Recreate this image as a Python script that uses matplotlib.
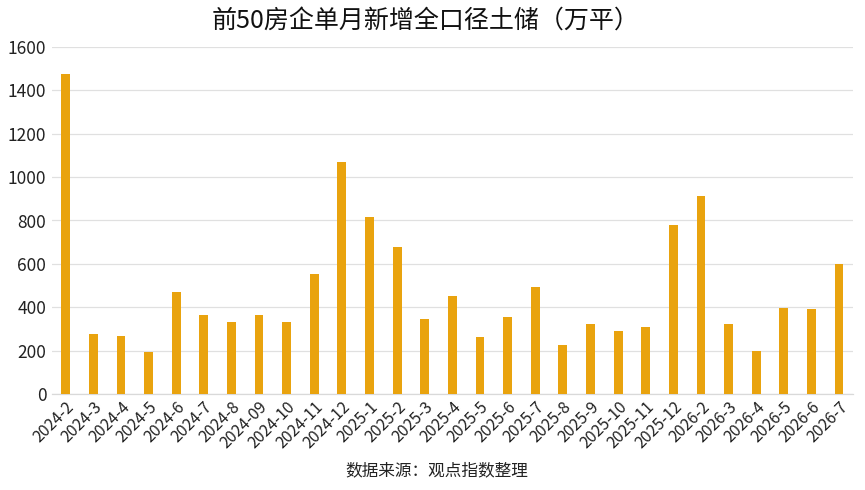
import matplotlib
matplotlib.use("Agg")
import matplotlib.pyplot as plt

plt.rcParams['font.family'] = ['Noto Sans CJK SC', 'DejaVu Sans']

categories = ["2024-2", "2024-3", "2024-4", "2024-5", "2024-6", "2024-7", "2024-8",
              "2024-09", "2024-10", "2024-11", "2024-12", "2025-1", "2025-2", "2025-3",
              "2025-4", "2025-5", "2025-6", "2025-7", "2025-8", "2025-9", "2025-10",
              "2025-11", "2025-12", "2026-2", "2026-3", "2026-4", "2026-5", "2026-6", "2026-7"]
values = [1475, 275, 269, 195, 472, 363, 332, 366, 332, 551, 1068, 815, 678, 348,
          454, 263, 357, 492, 228, 322, 291, 311, 778, 911, 322, 197, 398, 392, 600]
yticks = [0, 200, 400, 600, 800, 1000, 1200, 1400, 1600]

title = "前50房企单月新增全口径土储（万平）"
source = "数据来源：观点指数整理"

fig = plt.figure(figsize=(8.65, 4.9), dpi=100)
ax = fig.add_axes([0.060, 0.196, 0.926, 0.708])

x = list(range(len(categories)))
ax.bar(x, values, width=0.32, color="#E9A30E", zorder=3)

ax.set_xlim(-0.5, len(categories) - 0.5)
ax.set_ylim(0, 1600)
ax.set_yticks(yticks)
ax.set_yticklabels([str(v) for v in yticks], fontsize=12.5, color="#222222")
ax.yaxis.grid(True, color="#e0e0e0", linewidth=0.9, zorder=0)
ax.set_axisbelow(True)

ax.set_xticks(x)
ax.set_xticklabels(categories, rotation=45, ha="right", rotation_mode="anchor",
                   fontsize=11.5, color="#222222")
ax.tick_params(axis="both", length=0, pad=4)
ax.tick_params(axis="x", pad=3)

for s in ["top", "right", "left"]:
    ax.spines[s].set_visible(False)
ax.spines["bottom"].set_color("#d9d9d9")
ax.spines["bottom"].set_linewidth(0.9)

fig.text(0.492, 0.955, title, ha="center", va="center", fontsize=18, color="#111111")
fig.text(0.505, 0.040, source, ha="center", va="center", fontsize=12, color="#222222")

fig.savefig("out.png", dpi=100, facecolor="white")
